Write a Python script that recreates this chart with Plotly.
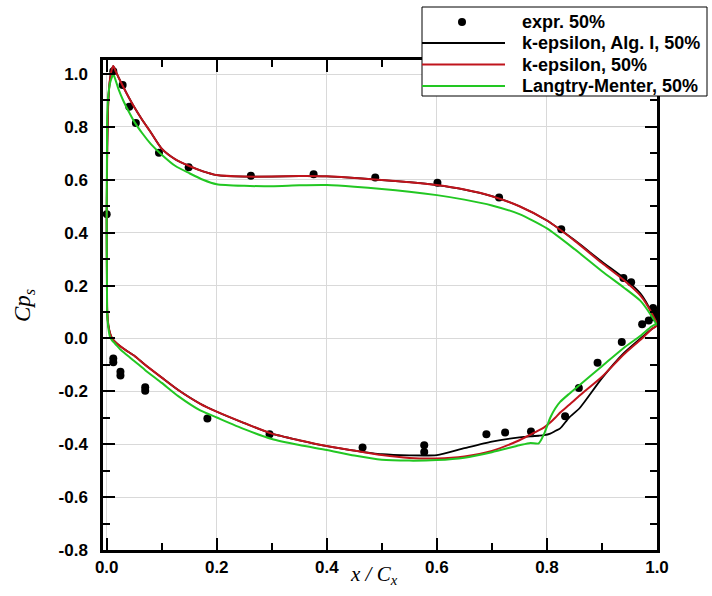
import plotly.graph_objects as go

# Surface stations (leading edge -> trailing edge)
upper_x = [0.0, 0.0005, 0.001, 0.003, 0.006, 0.009, 0.012, 0.016, 0.022, 0.03, 0.04,
           0.05, 0.065, 0.08, 0.1, 0.125, 0.15, 0.175, 0.2, 0.25, 0.3, 0.35, 0.4,
           0.45, 0.5, 0.55, 0.6, 0.65, 0.7, 0.75, 0.8, 0.85, 0.9, 0.94, 0.97, 0.99, 1.0]
lower_x = [0.0, 0.0005, 0.001, 0.003, 0.006, 0.01, 0.015, 0.025, 0.035, 0.05, 0.07,
           0.1, 0.13, 0.17, 0.2, 0.25, 0.3, 0.35, 0.4, 0.45, 0.5, 0.55, 0.6, 0.65,
           0.7, 0.75, 0.77, 0.785, 0.795, 0.806, 0.815, 0.824, 0.84, 0.86, 0.9,
           0.94, 0.97, 0.99, 1.0]

# k-epsilon, Alg. I
ke_alg_upper = [0.45, 0.6, 0.72, 0.9, 0.98, 1.015, 1.03, 1.012, 0.985, 0.952, 0.912,
                0.875, 0.825, 0.78, 0.718, 0.677, 0.652, 0.632, 0.618, 0.612, 0.612,
                0.614, 0.613, 0.607, 0.599, 0.591, 0.58, 0.563, 0.538, 0.5, 0.446,
                0.372, 0.29, 0.228, 0.17, 0.1, 0.05]
ke_alg_lower = [0.45, 0.2, 0.1, 0.05, 0.02, 0.0, -0.012, -0.03, -0.045, -0.065, -0.1,
                -0.148, -0.195, -0.247, -0.277, -0.32, -0.36, -0.385, -0.407, -0.424,
                -0.438, -0.442, -0.441, -0.415, -0.39, -0.374, -0.37, -0.368, -0.366,
                -0.36, -0.35, -0.34, -0.3, -0.262, -0.15, -0.055, 0.0, 0.035, 0.05]

# k-epsilon
ke_upper = [0.45, 0.6, 0.72, 0.9, 0.98, 1.015, 1.03, 1.012, 0.985, 0.952, 0.912,
            0.875, 0.825, 0.78, 0.718, 0.677, 0.652, 0.632, 0.618, 0.612, 0.612,
            0.614, 0.613, 0.607, 0.599, 0.591, 0.58, 0.563, 0.538, 0.5, 0.446,
            0.37, 0.285, 0.22, 0.162, 0.097, 0.05]
ke_lower = [0.45, 0.2, 0.1, 0.05, 0.02, 0.0, -0.012, -0.03, -0.045, -0.065, -0.1,
            -0.148, -0.195, -0.247, -0.277, -0.32, -0.36, -0.385, -0.407, -0.424,
            -0.441, -0.452, -0.454, -0.446, -0.425, -0.385, -0.364, -0.348, -0.336,
            -0.318, -0.3, -0.28, -0.252, -0.215, -0.145, -0.06, -0.005, 0.035, 0.05]

# Langtry-Menter
lm_upper = [0.45, 0.7, 0.84, 0.92, 0.965, 0.985, 1.0, 0.978, 0.94, 0.9, 0.858,
            0.82, 0.775, 0.736, 0.695, 0.652, 0.625, 0.6, 0.583, 0.577, 0.576,
            0.579, 0.58, 0.574, 0.565, 0.555, 0.542, 0.525, 0.503, 0.47, 0.416,
            0.338, 0.254, 0.192, 0.142, 0.085, 0.05]
lm_lower = [0.45, 0.2, 0.09, 0.04, 0.006, -0.008, -0.019, -0.042, -0.06, -0.085, -0.12,
            -0.168, -0.218, -0.272, -0.299, -0.343, -0.38, -0.403, -0.422, -0.443,
            -0.459, -0.462, -0.46, -0.451, -0.43, -0.404, -0.395, -0.397, -0.36,
            -0.3, -0.265, -0.24, -0.21, -0.175, -0.105, -0.035, 0.01, 0.045, 0.057]

# Measured data
expr_x = [0.0, 0.012, 0.029, 0.041, 0.053, 0.095, 0.149, 0.262, 0.376, 0.488, 0.601,
          0.713, 0.826, 0.939, 0.953, 0.993, 0.997, 0.995, 0.985, 0.973, 0.936,
          0.892, 0.858, 0.833, 0.771, 0.724, 0.69, 0.577, 0.577, 0.465, 0.296,
          0.183, 0.07, 0.07, 0.025, 0.025, 0.012, 0.012]
expr_y = [0.47, 1.01, 0.958, 0.876, 0.815, 0.702, 0.647, 0.615, 0.621, 0.609, 0.589,
          0.533, 0.413, 0.229, 0.213, 0.115, 0.095, 0.08, 0.068, 0.054, -0.013,
          -0.092, -0.187, -0.294, -0.352, -0.356, -0.362, -0.404, -0.429, -0.412,
          -0.362, -0.303, -0.185, -0.198, -0.126, -0.14, -0.076, -0.09]

x_ticks = [0.0, 0.2, 0.4, 0.6, 0.8, 1.0]
y_ticks = [-0.8, -0.6, -0.4, -0.2, 0.0, 0.2, 0.4, 0.6, 0.8, 1.0]

series_names = ["expr. 50%", "k-epsilon, Alg. I, 50%", "k-epsilon, 50%",
                "Langtry-Menter, 50%"]
series_colors = ["black", "black", "#c0141c", "#22c722"]

# Figure geometry (pixels)
W, H = 712, 596
ML, MR, MT, MB = 103, 55, 60, 46
PW, PH = W - ML - MR, H - MT - MB


def px(x):
    return (x - ML) / PW


def py(y):
    return (H - MB - y) / PH


def loop(upper, lower):
    """Closed loop: trailing edge along upper surface to LE, then lower surface back."""
    xs = upper_x[::-1] + lower_x[1:]
    ys = upper[::-1] + lower[1:]
    return xs, ys


fig = go.Figure()

fig.add_trace(go.Scatter(
    x=expr_x, y=expr_y, mode="markers", name=series_names[0],
    marker=dict(color=series_colors[0], size=8, symbol="circle")))

for name, up, lo, color, width in [
    (series_names[1], ke_alg_upper, ke_alg_lower, series_colors[1], 1.8),
    (series_names[2], ke_upper, ke_lower, series_colors[2], 2.0),
    (series_names[3], lm_upper, lm_lower, series_colors[3], 2.0),
]:
    xs, ys = loop(up, lo)
    fig.add_trace(go.Scatter(x=xs, y=ys, mode="lines", name=name,
                             line=dict(color=color, width=width, shape="spline",
                                       smoothing=0.6)))

tick_font = dict(family="Liberation Sans, Arial, sans-serif", size=17,
                 color="black", weight="bold")
axis_common = dict(
    showline=True, linecolor="black", linewidth=2.5, mirror="ticks",
    ticks="inside", ticklen=12, tickwidth=2, tickcolor="black",
    showgrid=True, gridcolor="#d9d9d9", gridwidth=1, zeroline=False,
    tickfont=tick_font,
    minor=dict(ticks="inside", ticklen=7, tickwidth=2, tickcolor="black",
               dtick=0.1, showgrid=False),
)

fig.update_xaxes(range=[-0.0067, 1.0], tickvals=x_ticks,
                 ticktext=[f"{v:.1f}" for v in x_ticks], **axis_common)
fig.update_yaxes(range=[-0.8, 1.053], tickvals=y_ticks,
                 ticktext=[f"{v:.1f}" for v in y_ticks], ticklabelstandoff=9,
                 **axis_common)

# Boxed legend in the upper right corner, overlapping the frame
leg_left, leg_right, leg_top, leg_bottom = 422, 707, 7, 96
sample_end, text_x = 505, 520
row_y = [22, 43, 64.5, 86]
shapes = [dict(type="rect", xref="paper", yref="paper", layer="above",
               x0=px(leg_left), x1=px(leg_right), y0=py(leg_bottom), y1=py(leg_top),
               fillcolor="white", line=dict(color="black", width=1))]
shapes.append(dict(type="circle", xref="paper", yref="paper", layer="above",
                   x0=px(458), x1=px(466), y0=py(row_y[0] + 4), y1=py(row_y[0] - 4),
                   fillcolor=series_colors[0], line=dict(width=0)))
for ry, col in zip(row_y[1:], series_colors[1:]):
    shapes.append(dict(type="line", xref="paper", yref="paper", layer="above",
                       x0=px(leg_left), x1=px(sample_end), y0=py(ry), y1=py(ry),
                       line=dict(color=col, width=2)))

legend_font = dict(family="Liberation Sans, Arial, sans-serif", size=18,
                   color="black", weight="bold")
annotations = [dict(text=name, xref="paper", yref="paper", x=px(text_x), y=py(ry),
                    xanchor="left", yanchor="middle", showarrow=False,
                    font=legend_font)
               for name, ry in zip(series_names, row_y)]

annotations += [
    dict(text="<i>Cp<sub>s</sub></i>", xref="paper", yref="paper",
         x=px(24), y=py(306), xanchor="center", yanchor="middle",
         showarrow=False, textangle=-90,
         font=dict(family="Liberation Serif, Times New Roman, serif",
                   size=23, color="black")),
    dict(text="<i>x / C<sub>x</sub></i>", xref="paper", yref="paper",
         x=px(374), y=py(575), xanchor="center", yanchor="middle",
         showarrow=False,
         font=dict(family="Liberation Serif, Times New Roman, serif",
                   size=21, color="black")),
]

fig.update_layout(
    width=W, height=H,
    margin=dict(l=ML, r=MR, t=MT, b=MB, autoexpand=False),
    plot_bgcolor="white", paper_bgcolor="white",
    showlegend=False,
    shapes=shapes,
    annotations=annotations,
)

fig.write_html("out.html")
